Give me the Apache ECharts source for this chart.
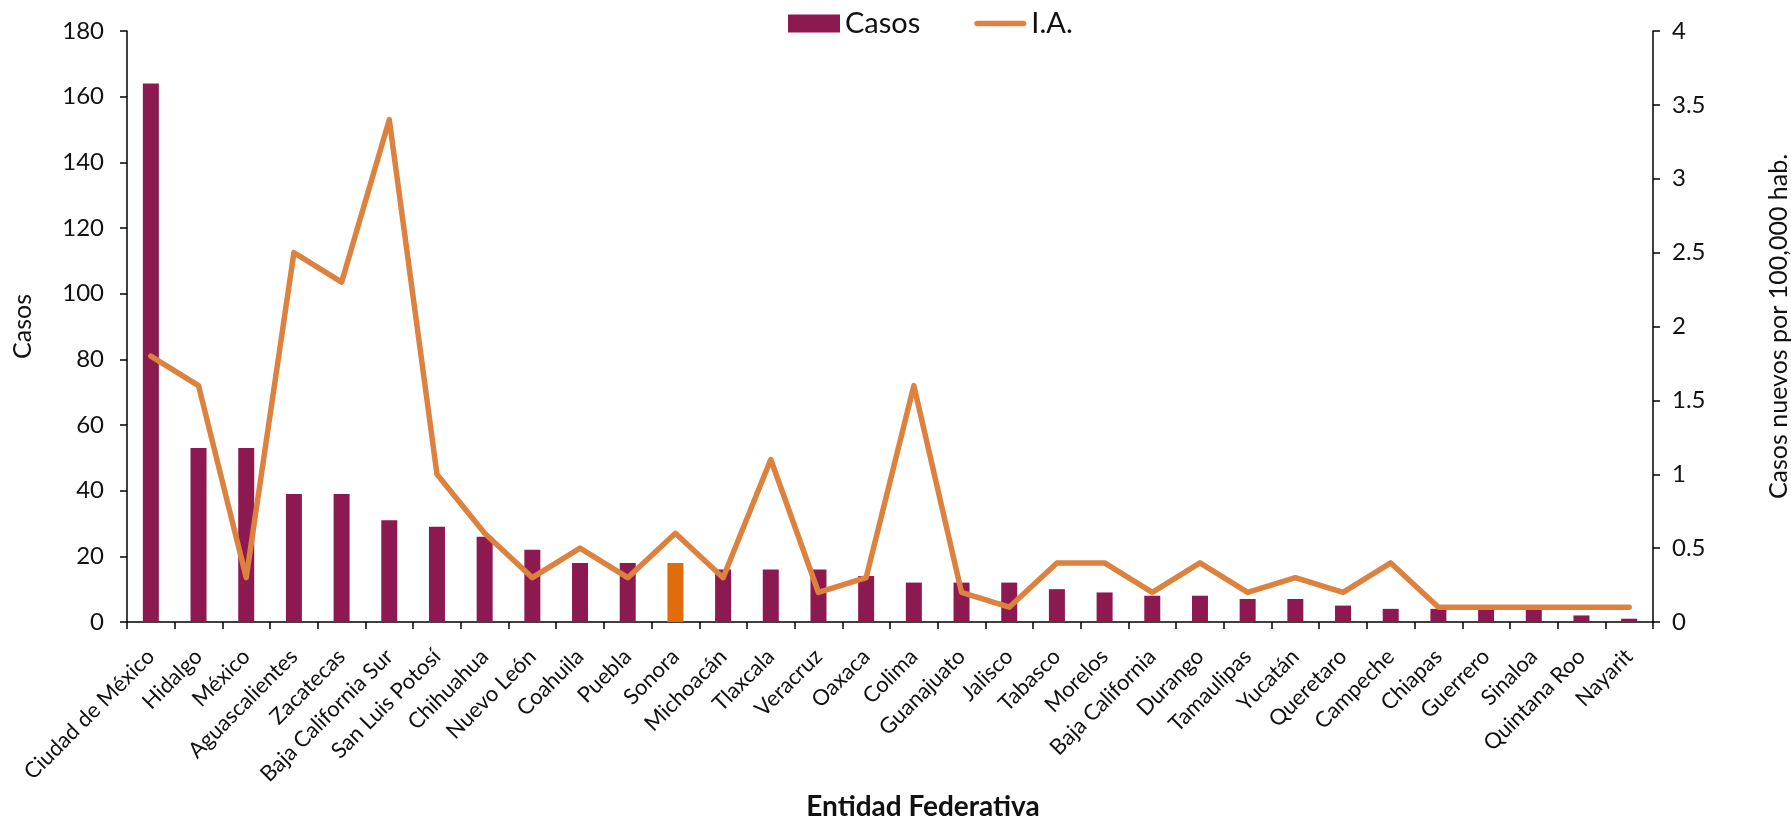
<!DOCTYPE html>
<html>
<head>
<meta charset="utf-8">
<script src="https://cdn.jsdelivr.net/npm/echarts@6/dist/echarts.min.js"></script>
<style>
html,body{margin:0;padding:0;background:#fff;}
#chart{width:1791px;height:820px;}
</style>
</head>
<body>
<div id="chart"></div>
<script>
const categories = ["Ciudad de México","Hidalgo","México","Aguascalientes","Zacatecas","Baja California Sur","San Luis Potosí","Chihuahua","Nuevo León","Coahuila","Puebla","Sonora","Michoacán","Tlaxcala","Veracruz","Oaxaca","Colima","Guanajuato","Jalisco","Tabasco","Morelos","Baja California","Durango","Tamaulipas","Yucatán","Queretaro","Campeche","Chiapas","Guerrero","Sinaloa","Quintana Roo","Nayarit"];
const casos = [164,53,53,39,39,31,29,26,22,18,18,18,16,16,16,14,12,12,12,10,9,8,8,7,7,5,4,4,4,4,2,1];
const ia = [1.8,1.6,0.3,2.5,2.3,3.4,1.0,0.6,0.3,0.5,0.3,0.6,0.3,1.1,0.2,0.3,1.6,0.2,0.1,0.4,0.4,0.2,0.4,0.2,0.3,0.2,0.4,0.1,0.1,0.1,0.1,0.1];
const highlighted = "Sonora";
const casosTicks = {min:0, max:180, interval:20};
const iaTicks = {min:0, max:4, interval:0.5};

const FONT = 'Lato';
const TXT = '#111';
const BAR = '#8C1950';
const HL = '#E36C0A';
const LINE = '#DD823E';

const chart = echarts.init(document.getElementById('chart'), null, {renderer:'canvas'});
const axisLine = {show:true, lineStyle:{color:'#000', width:1.5}};
chart.setOption({
  animation:false,
  textStyle:{fontFamily:FONT, color:TXT},
  grid:{left:127, right:138, top:31, bottom:198, containLabel:false, outerBoundsMode:'none'},
  legend:{
    top:4, left:783,
    itemWidth:52, itemHeight:18, itemGap:54,
    textStyle:{fontFamily:FONT, fontSize:29, color:TXT},
    data:[{name:'Casos', icon:'rect'},
          {name:'I.A.', icon:'path://M3,0 h50 a3,3 0 0 1 0,6 h-50 a3,3 0 0 1 0,-6 z', itemStyle:{color:LINE}}]
  },
  xAxis:{
    type:'category', data:categories,
    axisLine:axisLine,
    axisTick:{show:true, length:7, lineStyle:{color:'#000', width:1.5}},
    axisLabel:{rotate:45, interval:0, fontFamily:FONT, fontSize:22, color:TXT, margin:31},
    name:'Entidad Federativa', nameLocation:'middle', nameGap:171,
    nameTextStyle:{fontFamily:FONT, fontSize:28, fontWeight:'bold', color:TXT, padding:[0,0,0,66]}
  },
  yAxis:[
    {type:'value', min:casosTicks.min, max:casosTicks.max, interval:casosTicks.interval,
     axisLine:axisLine, axisTick:{show:true, length:7, lineStyle:{color:'#000', width:1.5}},
     splitLine:{show:false},
     axisLabel:{fontFamily:FONT, fontSize:24, color:TXT, margin:23},
     name:'Casos', nameLocation:'middle', nameGap:92, nameRotate:90,
     nameTextStyle:{fontFamily:FONT, fontSize:25, color:TXT}},
    {type:'value', position:'right', min:iaTicks.min, max:iaTicks.max, interval:iaTicks.interval,
     axisLine:axisLine, axisTick:{show:true, length:7, lineStyle:{color:'#000', width:1.5}},
     splitLine:{show:false},
     axisLabel:{fontFamily:FONT, fontSize:24, color:TXT, margin:19},
     name:'Casos nuevos por 100,000 hab.', nameLocation:'middle', nameGap:113, nameRotate:90,
     nameTextStyle:{fontFamily:FONT, fontSize:25, color:TXT}}
  ],
  series:[
    {name:'Casos', type:'bar', yAxisIndex:0, barWidth:16,
     itemStyle:{color:BAR},
     data:casos.map((v,i)=> categories[i]===highlighted ? {value:v, itemStyle:{color:HL}} : v)},
    {name:'I.A.', type:'line', yAxisIndex:1, data:ia,
     symbol:'none', showSymbol:false,
     lineStyle:{color:LINE, width:5.5, join:'round', cap:'round'},
     itemStyle:{color:LINE}}
  ]
});
</script>
</body>
</html>
